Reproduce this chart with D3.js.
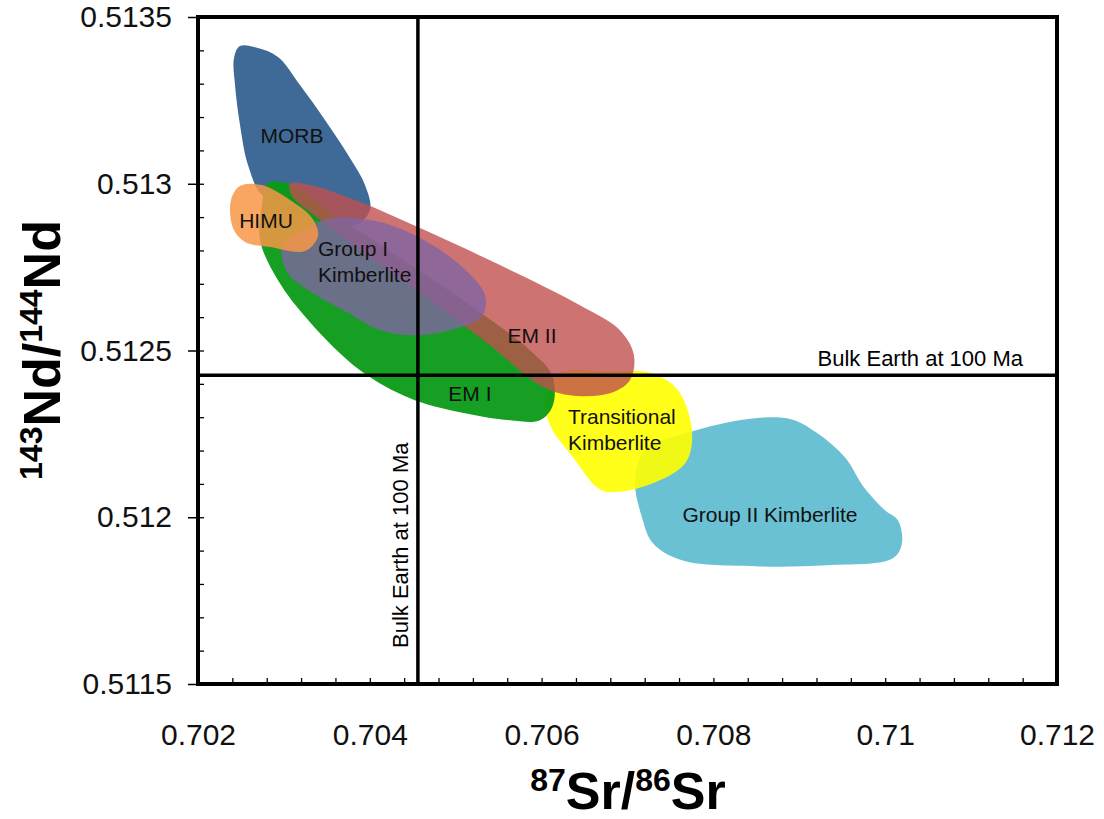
<!DOCTYPE html>
<html>
<head>
<meta charset="utf-8">
<script src="https://cdn.jsdelivr.net/npm/d3@7"></script>
<style>
  body { margin: 0; background: #fff; }
  svg { font-family: "Liberation Sans", Arial, sans-serif; }
</style>
</head>
<body>
<div id="main"></div>
<script>
// 87Sr/86Sr (x) and 143Nd/144Nd (y) outlines of each source field
var morb = [[0.702489,0.513413],[0.702698,0.513407],[0.702931,0.51338],[0.703187,0.513296],[0.703478,0.513191],
    [0.703769,0.513077],[0.703944,0.512996],[0.704002,0.512921],[0.703827,0.512876],[0.703187,0.512906],
    [0.702745,0.512966],[0.702582,0.513056],[0.702489,0.513176],[0.702431,0.513296],[0.702419,0.513377]];
var groupII = [[0.707797,0.512261],[0.708483,0.512297],[0.708903,0.512294],[0.709194,0.512255],[0.709531,0.51218],
    [0.709752,0.51209],[0.709997,0.512021],[0.710148,0.511991],[0.710195,0.511922],[0.71009,0.511877],
    [0.709322,0.511856],[0.708483,0.511853],[0.707634,0.511871],[0.707296,0.511922],[0.707168,0.512],
    [0.707087,0.512111],[0.707203,0.512201]];
var transitional = [[0.706167,0.512429],[0.706796,0.512438],[0.707285,0.512432],[0.707587,0.512381],[0.70775,0.512261],
    [0.70768,0.512165],[0.707296,0.512102],[0.706819,0.512075],[0.706656,0.512087],[0.706365,0.51218],
    [0.706109,0.51227],[0.706039,0.512351]];
var em1 = [[0.702815,0.513002],[0.703094,0.512996],[0.703536,0.512915],[0.704351,0.512777],[0.705166,0.512636],
    [0.705864,0.512501],[0.706121,0.512426],[0.706132,0.512336],[0.705981,0.512291],[0.705632,0.512291],
    [0.70505,0.512315],[0.704468,0.512357],[0.703886,0.512441],[0.703304,0.512585],[0.702931,0.512711],
    [0.702722,0.512831],[0.702745,0.512936]];
var em2 = [[0.703071,0.513],[0.703304,0.512996],[0.703886,0.512945],[0.704584,0.512867],[0.705515,0.512756],
    [0.706446,0.512636],[0.706912,0.512561],[0.707075,0.512486],[0.707028,0.512411],[0.706796,0.512372],
    [0.70633,0.512366],[0.705981,0.512396],[0.705399,0.512516],[0.7047,0.512651],[0.703886,0.512801],
    [0.703304,0.512915],[0.703094,0.512963]];
var groupI = [[0.702978,0.512807],[0.703187,0.512855],[0.703571,0.512897],[0.704118,0.512885],[0.704584,0.512837],
    [0.70505,0.512756],[0.705341,0.512666],[0.705306,0.512603],[0.704933,0.512561],[0.704503,0.512546],
    [0.704118,0.512561],[0.703734,0.512615],[0.703339,0.512672],[0.703048,0.512732]];
var himu = [[0.702489,0.512993],[0.702745,0.512996],[0.703071,0.512951],[0.703327,0.512897],[0.703397,0.512843],
    [0.703245,0.512798],[0.702838,0.51281],[0.702547,0.512825],[0.702407,0.512867],[0.702384,0.512951]];

var fields = [
    {name: "MORB", pts: morb, fill: "#3f6a97", opacity: 1},
    {name: "Group II Kimberlite", pts: groupII, fill: "#4bb3cb", opacity: 0.82},
    {name: "Transitional Kimberlite", pts: transitional, fill: "#ffff00", opacity: 0.9},
    {name: "EM I", pts: em1, fill: "#0a9a16", opacity: 0.95},
    {name: "EM II", pts: em2, fill: "#c0504d", opacity: 0.8},
    {name: "Group I Kimberlite", pts: groupI, fill: "#8064a2", opacity: 0.8},
    {name: "HIMU", pts: himu, fill: "#f79646", opacity: 0.85}
];

// label anchors
var fieldLabels = [
    {x: 0.703094, y: 0.513143, anchor: "middle", lines: ["MORB"]},
    {x: 0.702792, y: 0.512888, anchor: "middle", lines: ["HIMU"]},
    {x: 0.703397, y: 0.512765, anchor: "start", lines: ["Group I", "Kimberlite"]},
    {x: 0.705888, y: 0.512543, anchor: "middle", lines: ["EM II"]},
    {x: 0.705166, y: 0.512369, anchor: "middle", lines: ["EM I"]},
    {x: 0.706307, y: 0.512261, anchor: "start", lines: ["Transitional", "Kimberlite"]},
    {x: 0.708658, y: 0.512006, anchor: "middle", lines: ["Group II Kimberlite"]}
];

var bulkSr = 0.70456;
var bulkNd = 0.512426;

var xTicks = [0.702, 0.704, 0.706, 0.708, 0.710, 0.712];
var xTickLabels = ["0.702", "0.704", "0.706", "0.708", "0.71", "0.712"];
var yTicks = [0.5135, 0.513, 0.5125, 0.512, 0.5115];
var yTickLabels = ["0.5135", "0.513", "0.5125", "0.512", "0.5115"];
var xMinor = d3.range(0, 26).map(function(i) { return 0.702 + i * 0.0004; });
var yMinor = d3.range(0, 21).map(function(i) { return 0.5115 + i * 0.0001; });

var width = 1104, height = 819;
var x0 = 198, x1 = 1057, y0 = 17, y1 = 684;

var x = d3.scaleLinear().domain([0.702, 0.712]).range([x0, x1]);
var y = d3.scaleLinear().domain([0.5115, 0.5135]).range([y1, y0]);

var svg = d3.select("#main").append("svg")
    .attr("width", width)
    .attr("height", height);

var line = d3.line()
    .x(function(d) { return x(d[0]); })
    .y(function(d) { return y(d[1]); })
    .curve(d3.curveCatmullRomClosed.alpha(0.5));

svg.selectAll(".field")
    .data(fields)
    .enter()
    .append("path")
    .attr("class", "field")
    .attr("d", function(d) { return line(d.pts); })
    .attr("fill", function(d) { return d.fill; })
    .attr("fill-opacity", function(d) { return d.opacity; });

// reference lines
svg.append("line")
    .attr("x1", x(bulkSr)).attr("x2", x(bulkSr))
    .attr("y1", y0).attr("y2", y1)
    .attr("stroke", "#000").attr("stroke-width", 3.5);
svg.append("line")
    .attr("x1", x0).attr("x2", x1)
    .attr("y1", y(bulkNd)).attr("y2", y(bulkNd))
    .attr("stroke", "#000").attr("stroke-width", 3.5);

var labels = svg.selectAll(".flabel")
    .data(fieldLabels)
    .enter()
    .append("text")
    .attr("class", "flabel")
    .attr("text-anchor", function(d) { return d.anchor; })
    .style("font-size", "21px")
    .attr("fill", "#111");
labels.each(function(d) {
    var t = d3.select(this);
    var n = d.lines.length;
    d.lines.forEach(function(s, i) {
        t.append("tspan")
            .attr("x", x(d.x))
            .attr("y", y(d.y) + (i - (n - 1) / 2) * 26 + 7)
            .text(s);
    });
});

svg.append("text")
    .attr("x", 1023).attr("y", y(bulkNd) - 9)
    .attr("text-anchor", "end")
    .style("font-size", "22px")
    .text("Bulk Earth at 100 Ma");
svg.append("text")
    .attr("transform", "translate(" + (x(bulkSr) - 10) + ",648) rotate(-90)")
    .attr("text-anchor", "start")
    .style("font-size", "22px")
    .text("Bulk Earth at 100 Ma");

// axes
svg.append("g")
    .attr("transform", "translate(0," + y1 + ")")
    .call(d3.axisBottom(x).tickValues(xMinor).tickSize(-6).tickFormat(""))
    .call(function(g) { g.select(".domain").remove(); g.selectAll("line").attr("stroke-width", 1.3); });
svg.append("g")
    .attr("transform", "translate(" + x0 + ",0)")
    .call(d3.axisLeft(y).tickValues(yMinor).tickSize(-6).tickFormat(""))
    .call(function(g) { g.select(".domain").remove(); g.selectAll("line").attr("stroke-width", 1.3); });
svg.append("g")
    .attr("transform", "translate(" + x0 + ",0)")
    .call(d3.axisLeft(y).tickValues(yTicks).tickSize(10).tickPadding(16)
        .tickFormat(function(d, i) { return yTickLabels[i]; }))
    .call(function(g) {
        g.select(".domain").remove();
        g.selectAll("line").attr("stroke-width", 1.5);
        g.selectAll("text").style("font-size", "30px").attr("fill", "#111")
            .style("font-family", "Liberation Sans, Arial, sans-serif");
    });
svg.append("g")
    .attr("transform", "translate(0," + y1 + ")")
    .call(d3.axisBottom(x).tickValues(xTicks).tickSize(0).tickPadding(40)
        .tickFormat(function(d, i) { return xTickLabels[i]; }))
    .call(function(g) {
        g.select(".domain").remove();
        g.selectAll("text").style("font-size", "30px").attr("fill", "#111")
            .style("font-family", "Liberation Sans, Arial, sans-serif");
    });

svg.append("rect")
    .attr("x", x0).attr("y", y0)
    .attr("width", x1 - x0).attr("height", y1 - y0)
    .attr("fill", "none").attr("stroke", "#000").attr("stroke-width", 4);

// axis titles
var xt = svg.append("text")
    .attr("x", 628).attr("y", 809)
    .attr("text-anchor", "middle")
    .style("font-size", "52px").style("font-weight", "bold");
xt.append("tspan").attr("dy", "-18").style("font-size", "32px").text("87");
xt.append("tspan").attr("dy", "18").text("Sr/");
xt.append("tspan").attr("dy", "-18").style("font-size", "32px").text("86");
xt.append("tspan").attr("dy", "18").text("Sr");

var yt = svg.append("text")
    .attr("transform", "translate(60,350) rotate(-90)")
    .attr("text-anchor", "middle")
    .style("font-size", "52px").style("font-weight", "bold");
yt.append("tspan").attr("dy", "-18").style("font-size", "32px").text("143");
yt.append("tspan").attr("dy", "18").text("Nd/");
yt.append("tspan").attr("dy", "-18").style("font-size", "32px").text("144");
yt.append("tspan").attr("dy", "18").text("Nd");
</script>
</body>
</html>
